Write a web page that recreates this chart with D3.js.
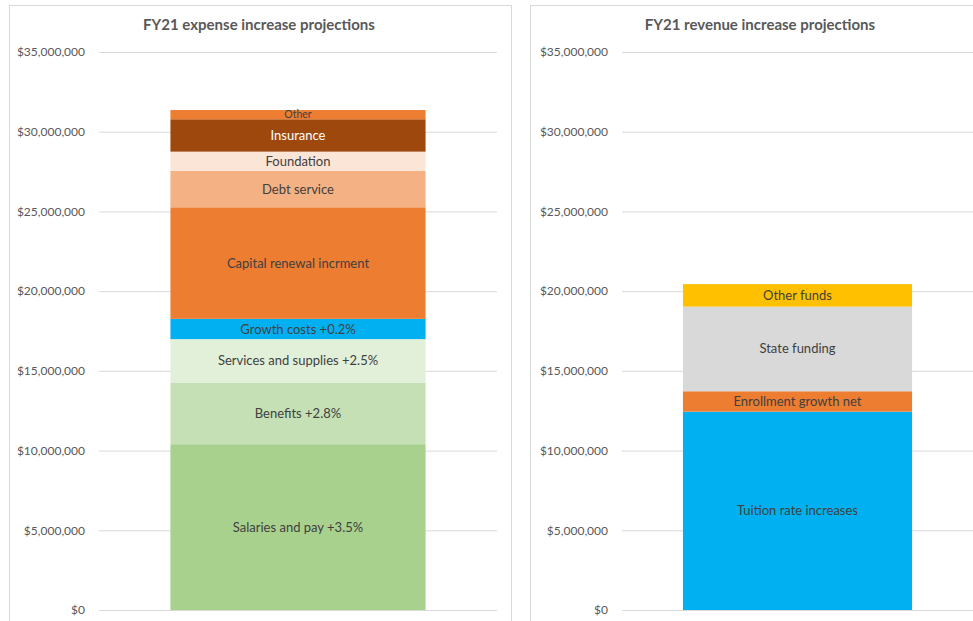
<!DOCTYPE html>
<html>
<head>
<meta charset="utf-8">
<script src="https://cdn.jsdelivr.net/npm/d3@7"></script>
<style>
  body { margin: 0; background: #fff; }
  svg { font-family: Lato, "Open Sans", sans-serif; }
</style>
</head>
<body>
<div class="svg-container"></div>
<script>
// Expense chart data (bottom to top)
var expenseCategories = ["Salaries and pay +3.5%", "Benefits +2.8%", "Services and supplies +2.5%",
  "Growth costs +0.2%", "Capital renewal incrment", "Debt service", "Foundation", "Insurance", "Other"];
var expenseValues = [10400000, 3870000, 2720000, 1270000, 7000000, 2280000, 1210000, 2030000, 580000];
var expenseColors = ["#A9D18E", "#C5E0B4", "#E2F0D9", "#00B0F0", "#ED7D31", "#F4B183", "#FBE5D6", "#9E480E", "#ED7D31"];

// Revenue chart data (bottom to top)
var revenueCategories = ["Tuition rate increases", "Enrollment growth net", "State funding", "Other funds"];
var revenueValues = [12440000, 1280000, 5310000, 1410000];
var revenueColors = ["#00B0F0", "#ED7D31", "#D9D9D9", "#FFC000"];

var yTicks = [0, 5000000, 10000000, 15000000, 20000000, 25000000, 30000000, 35000000];

var svg = d3.select(".svg-container").append("svg")
  .attr("width", 973)
  .attr("height", 621);

function StackChart(o) {
  // frame
  svg.append("rect")
    .attr("x", o.frameX + 0.5).attr("y", 5.5)
    .attr("width", o.frameW).attr("height", 640)
    .attr("fill", "#fff")
    .attr("stroke", "#D9D9D9");

  svg.append("text")
    .attr("x", o.titleX).attr("y", 30)
    .attr("text-anchor", "middle")
    .style("font-size", "15px")
    .style("font-weight", "bold")
    .style("fill", "#595959")
    .text(o.title);

  var yScale = d3.scaleLinear().domain([0, 35000000]).range([610, 52]);
  var xScale = d3.scaleBand().domain(["FY21"]).range([o.plotX0, o.plotX1]).paddingInner(0).paddingOuter(o.pad);

  var yaxis = d3.axisLeft(yScale)
    .tickValues(yTicks)
    .tickSize(-(o.plotX1 - o.plotX0))
    .tickPadding(14)
    .tickFormat(function(d) { return "$" + d3.format(",")(d); });

  var g = svg.append("g")
    .attr("transform", "translate(" + o.plotX0 + ",0)")
    .call(yaxis);
  g.select(".domain").remove();
  g.selectAll(".tick line").attr("stroke", "#D9D9D9");
  g.selectAll(".tick text").style("fill", "#595959").style("font-size", "12px").style("font-family", "Lato, sans-serif");

  // stack
  var rows = [];
  var base = 0;
  for (let i = 0; i < o.values.length; i++) {
    rows.push({ name: o.cats[i], y0: base, y1: base + o.values[i], color: o.colors[i] });
    base += o.values[i];
  }

  var segs = svg.append("g").selectAll("g.seg")
    .data(rows)
    .enter().append("g").attr("class", "seg");

  segs.append("rect")
    .attr("x", xScale("FY21"))
    .attr("width", xScale.bandwidth())
    .attr("y", function(d) { return yScale(d.y1); })
    .attr("height", function(d) { return yScale(d.y0) - yScale(d.y1); })
    .attr("fill", function(d) { return d.color; });

  segs.append("text")
    .attr("x", xScale("FY21") + xScale.bandwidth() / 2)
    .attr("y", function(d) { return (yScale(d.y0) + yScale(d.y1)) / 2; })
    .attr("dy", "0.35em")
    .attr("text-anchor", "middle")
    .style("font-size", function(d) { return d.name === "Other" ? "10.5px" : "13px"; })
    .style("fill", function(d) { return d.name === "Insurance" ? "#fff" : "#404040"; })
    .text(function(d) { return d.name; });
}

StackChart({
  title: "FY21 expense increase projections", titleX: 259,
  frameX: 9, frameW: 502, plotX0: 99, plotX1: 497, pad: 0.28,
  cats: expenseCategories, values: expenseValues, colors: expenseColors
});

StackChart({
  title: "FY21 revenue increase projections", titleX: 760,
  frameX: 530, frameW: 460, plotX0: 622, plotX1: 973, pad: 0.266,
  cats: revenueCategories, values: revenueValues, colors: revenueColors
});
</script>
</body>
</html>
